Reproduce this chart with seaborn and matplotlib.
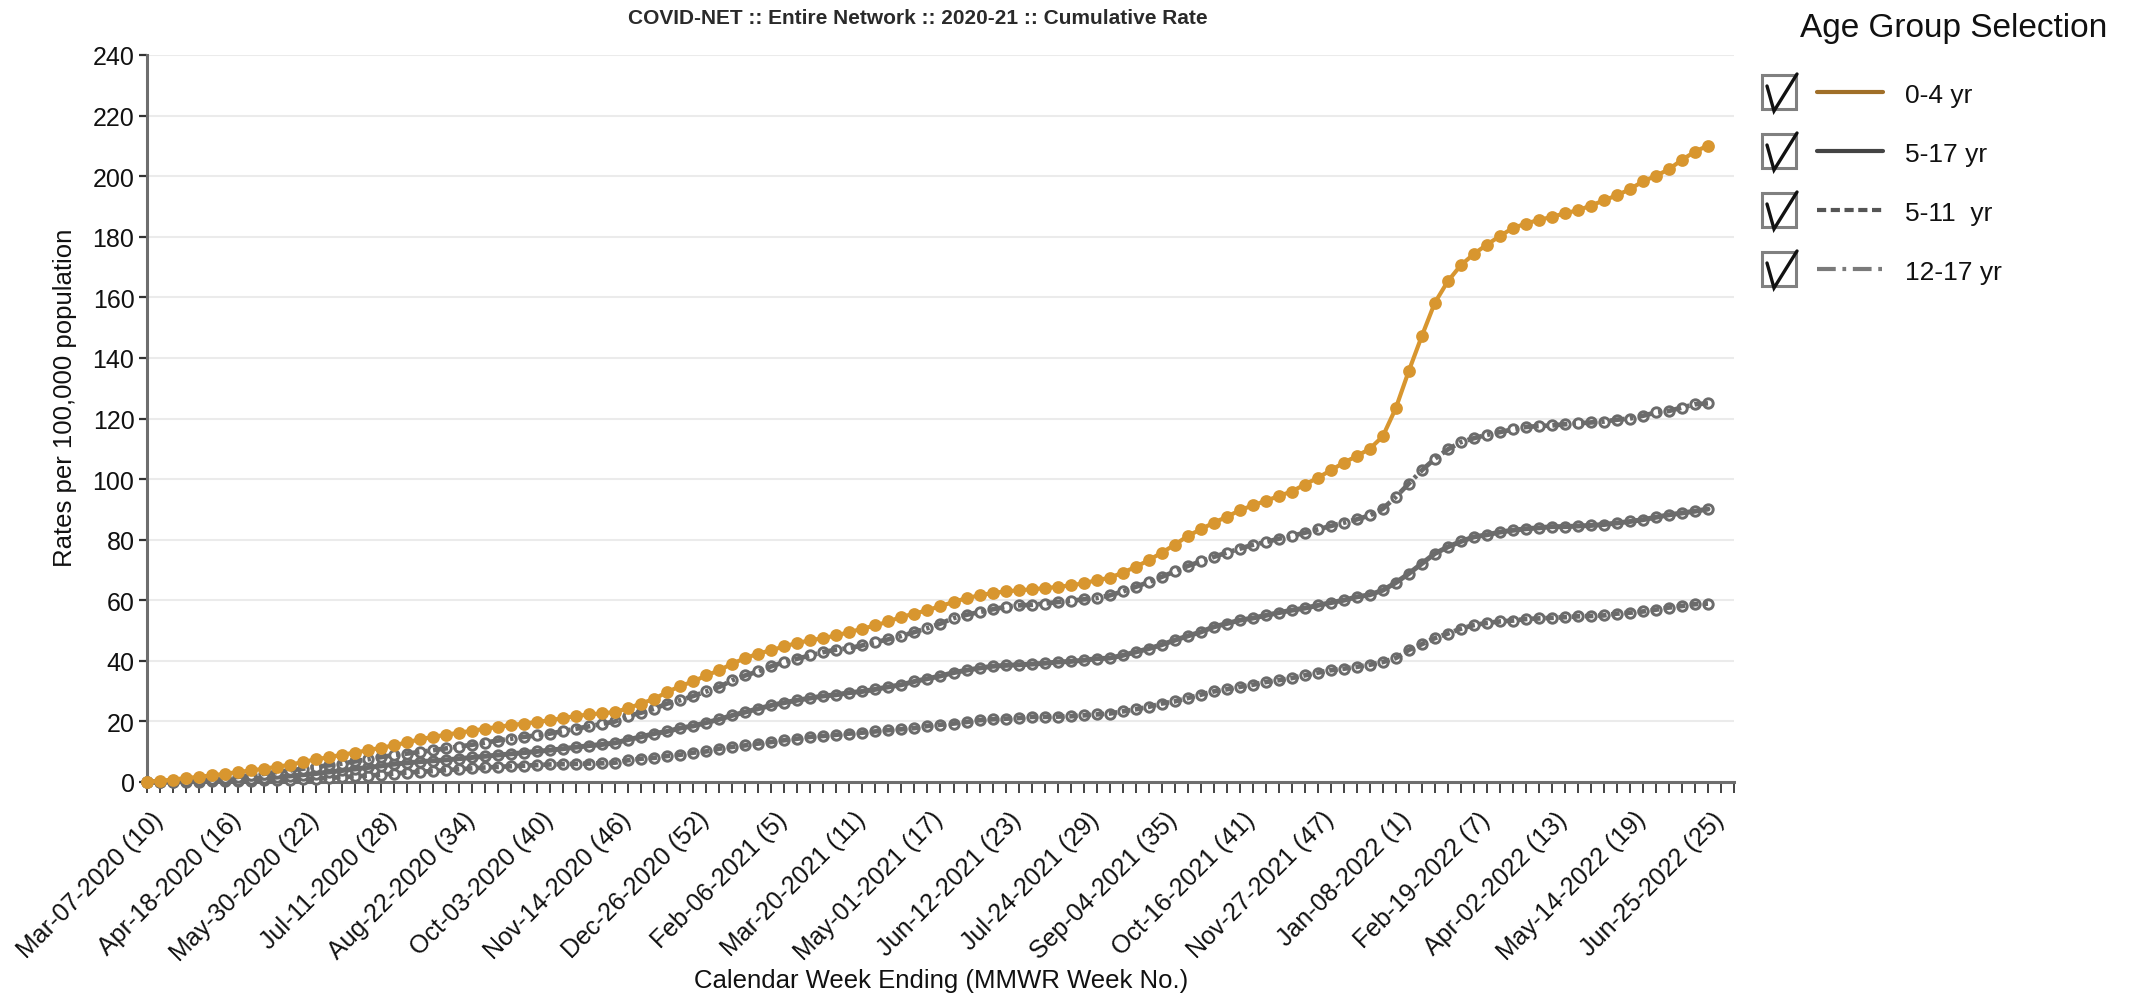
import numpy as np
import pandas as pd
import matplotlib
matplotlib.use("Agg")
import matplotlib.pyplot as plt
import matplotlib.transforms as mtransforms
from matplotlib.lines import Line2D
from matplotlib.patches import Rectangle
import seaborn as sns

# ---- data: cumulative hospitalization rate per 100,000, one value per MMWR week ----
week_labels = [
    "Mar-07-2020 (10)", "Apr-18-2020 (16)", "May-30-2020 (22)", "Jul-11-2020 (28)",
    "Aug-22-2020 (34)", "Oct-03-2020 (40)", "Nov-14-2020 (46)", "Dec-26-2020 (52)",
    "Feb-06-2021 (5)", "Mar-20-2021 (11)", "May-01-2021 (17)", "Jun-12-2021 (23)",
    "Jul-24-2021 (29)", "Sep-04-2021 (35)", "Oct-16-2021 (41)", "Nov-27-2021 (47)",
    "Jan-08-2022 (1)", "Feb-19-2022 (7)", "Apr-02-2022 (13)", "May-14-2022 (19)",
    "Jun-25-2022 (25)",
]

rate_0_4 = [
    0.1, 0.4, 0.8, 1.3, 1.7, 2.2, 2.7, 3.3, 3.8, 4.4, 5.0, 5.7, 6.6, 7.5, 8.2, 9.0,
    9.7, 10.5, 11.3, 12.1, 13.1, 14.1, 14.9, 15.6, 16.3, 16.9, 17.6, 18.2, 18.8, 19.3,
    19.8, 20.4, 21.1, 21.8, 22.3, 22.7,
    23.1, 24.4, 25.9, 27.5, 29.7, 31.7, 33.2, 35.2, 36.9, 39.1, 40.9, 42.4, 43.5, 44.8,
    45.9, 46.8, 47.5, 48.4, 49.5, 50.6, 51.7, 53.0, 54.5, 55.6, 56.7, 58.1, 59.4, 60.7,
    61.6, 62.4, 62.9, 63.3, 63.6, 64.0, 64.4, 64.9, 65.6, 66.6,
    67.4, 69.1, 71.0, 73.2, 75.7, 78.3, 81.2, 83.4, 85.6, 87.5, 89.7, 91.3, 92.8, 94.4,
    95.9, 98.2, 100.4, 102.9, 105.4, 107.6, 110.0, 114.1, 123.4, 135.7, 147.2, 158.2,
    165.3,
    170.6, 174.3, 177.4, 180.2, 182.9, 184.3, 185.6, 186.5, 187.8, 188.7, 190.3, 192.0,
    193.7, 195.7, 198.3, 200.1, 202.3, 205.4, 208.1, 210.1,
]

rate_5_17 = [
    0.0, 0.05, 0.1, 0.2, 0.3, 0.5, 0.6, 0.8, 1.0, 1.3, 1.6, 2.0, 2.4, 2.8, 3.3, 3.8,
    4.3, 4.8, 5.3, 5.9, 6.3, 6.7, 7.0, 7.3, 7.7, 8.1, 8.5, 8.9, 9.3, 9.7, 10.1, 10.5,
    11.0, 11.5, 12.0, 12.4,
    12.9, 14.0, 14.9, 16.0, 16.7, 17.8, 18.5, 19.6, 20.7, 22.0, 23.1, 24.2, 25.3, 26.2,
    27.0, 27.7, 28.4, 28.8, 29.5, 29.9, 30.6, 31.4, 32.1, 33.2, 34.1, 35.0, 36.1, 36.9,
    37.6, 38.2, 38.5, 38.7, 38.9, 39.2, 39.6, 39.8, 40.2, 40.7,
    40.9, 41.8, 42.9, 44.0, 45.3, 46.8, 48.2, 49.5, 51.2, 52.3, 53.4, 54.1, 55.0, 55.9,
    56.7, 57.4, 58.3, 59.2, 60.0, 61.1, 61.8, 63.3, 65.8, 68.8, 72.1, 75.4, 77.6, 79.4,
    80.9, 81.6, 82.5, 83.1, 83.6, 83.9, 84.3,
    84.3, 84.5, 84.7, 85.0, 85.5, 86.0, 86.6, 87.4, 88.2, 88.8, 89.4, 90.1,
]

rate_5_11 = [
    0.0, 0.0, 0.05, 0.1, 0.15, 0.2, 0.3, 0.35, 0.45, 0.55, 0.65, 0.8, 0.95, 1.1, 1.4,
    1.6, 1.9, 2.1, 2.4, 2.8, 3.1, 3.4, 3.6, 3.9, 4.2, 4.5, 4.8, 5.0, 5.2, 5.4, 5.6, 5.8,
    5.9, 6.0, 6.1, 6.2,
    6.4, 7.2, 7.7, 8.0, 8.6, 9.0, 9.7, 10.1, 11.0, 11.6, 12.1, 12.7, 13.2, 13.8, 14.3,
    14.9, 15.2, 15.6, 16.0, 16.3, 16.7, 17.1, 17.4, 17.8, 18.5, 18.9, 19.3, 19.8, 20.4,
    20.7, 20.9, 21.1, 21.5, 21.5, 21.6, 21.7, 22.0, 22.3,
    22.6, 23.3, 24.0, 24.8, 25.9, 26.6, 27.7, 28.8, 29.9, 30.6, 31.4, 32.1, 33.0, 33.6,
    34.3, 35.2, 36.1, 36.9, 37.4, 38.0, 38.7, 39.6, 40.9, 43.6, 45.5, 47.5, 49.0, 50.6,
    51.8, 52.5, 53.0, 53.3, 53.8, 54.0, 54.2,
    54.4, 54.7, 54.8, 55.0, 55.6, 55.9, 56.3, 56.9, 57.6, 58.1, 58.7, 58.9,
]

rate_12_17 = [
    0.0, 0.1, 0.2, 0.4, 0.6, 0.9, 1.2, 1.7, 2.2, 2.7, 3.3, 3.8, 4.4, 5.0, 5.5, 6.1,
    6.8, 7.5, 8.2, 8.9, 9.4, 9.9, 10.5, 11.1, 11.7, 12.3, 13.0, 13.7, 14.3, 14.9, 15.4,
    16.0, 16.8, 17.6, 18.4, 19.2,
    20.0, 21.8, 22.9, 24.2, 25.9, 27.0, 28.4, 29.9, 31.4, 33.6, 35.2, 36.5, 38.2, 39.6,
    40.7, 41.8, 42.9, 43.7, 44.2, 45.1, 46.2, 47.1, 48.2, 49.5, 50.8, 52.3, 54.1, 55.2,
    56.1, 57.0, 57.8, 58.3, 58.5, 58.9, 59.4, 59.8, 60.3, 60.7,
    61.6, 62.9, 64.4, 66.0, 67.7, 69.5, 71.3, 72.8, 74.3, 75.7, 77.0, 78.3, 79.2, 80.3,
    81.2, 82.3, 83.4, 84.5, 85.6, 86.7, 88.0, 90.2, 94.1, 98.5, 102.9, 106.7, 109.8,
    112.2, 113.5, 114.6, 115.5, 116.4, 117.2, 117.5, 117.7,
    118.1, 118.4, 118.7, 119.0, 119.6, 120.0, 120.9, 122.0, 122.5, 123.6, 124.7, 125.0,
]

group_names = ["0-4 yr", "5-17 yr", "5-11  yr", "12-17 yr"]
group_rates = [rate_0_4, rate_5_17, rate_5_11, rate_12_17]

frames = []
for name, vals in zip(group_names, group_rates):
    frames.append(pd.DataFrame({"week": np.arange(len(vals)), "rate": vals, "group": name}))
df = pd.concat(frames, ignore_index=True)

# ---- styling ----
W, H, DPI = 2154, 995, 100
ORANGE = "#D8962F"
GRAY = "#6B6B6B"

sns.set_theme(style="white")
plt.rcParams["font.family"] = ["Liberation Sans", "DejaVu Sans"]
NARROW = ["Liberation Sans Narrow", "Liberation Sans", "DejaVu Sans"]

fig = plt.figure(figsize=(W / DPI, H / DPI), dpi=DPI)


def fx(px):
    return px / W


def fy(py):
    return 1 - py / H


ax_left, ax_right, ax_top, ax_bottom = 147, 1734, 56, 783
ax = fig.add_axes([fx(ax_left), fy(ax_bottom), fx(ax_right - ax_left), (ax_bottom - ax_top) / H])

# series styles: line colour, dash pattern, marker face
styles = {
    "0-4 yr": dict(color=ORANGE, ls="-", face=ORANGE, z=6, lw=3.0),
    "5-17 yr": dict(color=GRAY, ls="-", face="white", z=4, lw=3.6),
    "5-11  yr": dict(color=GRAY, ls=(0, (1.8, 1.0)), face="white", z=3, lw=3.4),
    "12-17 yr": dict(color=GRAY, ls=(0, (3.2, 1.1, 0.7, 1.1)), face="white", z=5, lw=3.4),
}

for name in ["5-11  yr", "5-17 yr", "12-17 yr", "0-4 yr"]:
    st = styles[name]
    sub = df[df["group"] == name]
    filled = st["face"] == ORANGE
    sns.scatterplot(data=sub, x="week", y="rate", ax=ax, marker="o",
                    s=62 if filled else 46,
                    facecolor=st["face"], edgecolor=st["color"],
                    linewidth=1.3 if filled else 2.1,
                    zorder=st["z"], clip_on=False, legend=False)
    sns.lineplot(data=sub, x="week", y="rate", ax=ax, color=st["color"],
                 linewidth=st["lw"], linestyle=st["ls"], estimator=None, errorbar=None,
                 zorder=st["z"] + 0.5, legend=False, clip_on=False)

ax.set_xlim(0, 122)
ax.set_ylim(0, 240)

# y axis
ax.set_yticks(np.arange(0, 241, 20))
ax.yaxis.grid(True, color="#EBEBEB", linewidth=1.5, zorder=0)
ax.xaxis.grid(False)
ax.tick_params(axis="y", which="major", left=True, direction="out", length=6, width=1.6,
               color="#333333", pad=3, labelsize=18, labelcolor="#111111")
for lab in ax.get_yticklabels():
    lab.set_family(NARROW)

# x axis: a tick every week, a label every sixth week
ax.set_xticks(np.arange(0, 121, 6))
ax.set_xticks(np.arange(0, 123, 1), minor=True)
ax.set_xticklabels(week_labels, rotation=45, ha="right", va="center",
                   rotation_mode="anchor", fontsize=18, color="#111111")
ax.tick_params(axis="x", which="both", bottom=True, direction="out", length=8, width=1.2,
               color="#222222", pad=16)
shift = mtransforms.ScaledTranslation(12 / DPI, 0, fig.dpi_scale_trans)
for lab in ax.get_xticklabels():
    lab.set_transform(lab.get_transform() + shift)

for side in ["top", "right"]:
    ax.spines[side].set_visible(False)
for side in ["left", "bottom"]:
    ax.spines[side].set_color("#6E6E6E")
    ax.spines[side].set_linewidth(2.2)
    ax.spines[side].set_zorder(2)

ax.set_xlabel("Calendar Week Ending (MMWR Week No.)", fontsize=18.5, color="#111111")
ax.xaxis.set_label_coords((941 - ax_left) / (ax_right - ax_left),
                          (ax_bottom - 981) / (ax_bottom - ax_top))
ax.xaxis.label.set_va("center")
ax.set_ylabel("Rates per 100,000 population", fontsize=18.5, color="#111111")
ax.yaxis.set_label_coords((65 - ax_left) / (ax_right - ax_left),
                          (ax_bottom - 398) / (ax_bottom - ax_top))
ax.yaxis.label.set_va("center")

fig.text(fx(918), fy(19), "COVID-NET :: Entire Network :: 2020-21 :: Cumulative Rate",
         ha="center", va="center", fontsize=15, fontweight="bold", color="#2A2A2A",
         family=NARROW)

# ---- selection panel with check boxes ----
fig.text(fx(1954), fy(28), "Age Group Selection", ha="center", va="center",
         fontsize=24, color="#111111")

legend_rows = [
    ("0-4 yr", "#A06F28", "-"),
    ("5-17 yr", "#444444", "-"),
    ("5-11  yr", "#555555", (0, (2.2, 1.1))),
    ("12-17 yr", "#7A7A7A", (0, (4.5, 1.6, 0.9, 1.6))),
]
row_y = [93, 152, 211, 270]
for (label, col, ls), yc in zip(legend_rows, row_y):
    fig.patches.append(Rectangle((fx(1762), fy(yc + 17)), fx(34), 34 / H,
                                 transform=fig.transFigure, fill=False,
                                 edgecolor="#808080", linewidth=2.2))
    fig.lines.append(Line2D([fx(1767), fx(1774), fx(1797)],
                            [fy(yc - 6), fy(yc + 19), fy(yc - 18)],
                            transform=fig.transFigure, color="#111111",
                            linewidth=2.4, solid_joinstyle="miter"))
    fig.lines.append(Line2D([fx(1817), fx(1883)], [fy(yc), fy(yc)],
                            transform=fig.transFigure, color=col, linewidth=3.0,
                            linestyle=ls))
    fig.text(fx(1905), fy(yc + 3), label, ha="left", va="center",
             fontsize=19, color="#111111")

fig.savefig("out.png", dpi=DPI, facecolor="white")
